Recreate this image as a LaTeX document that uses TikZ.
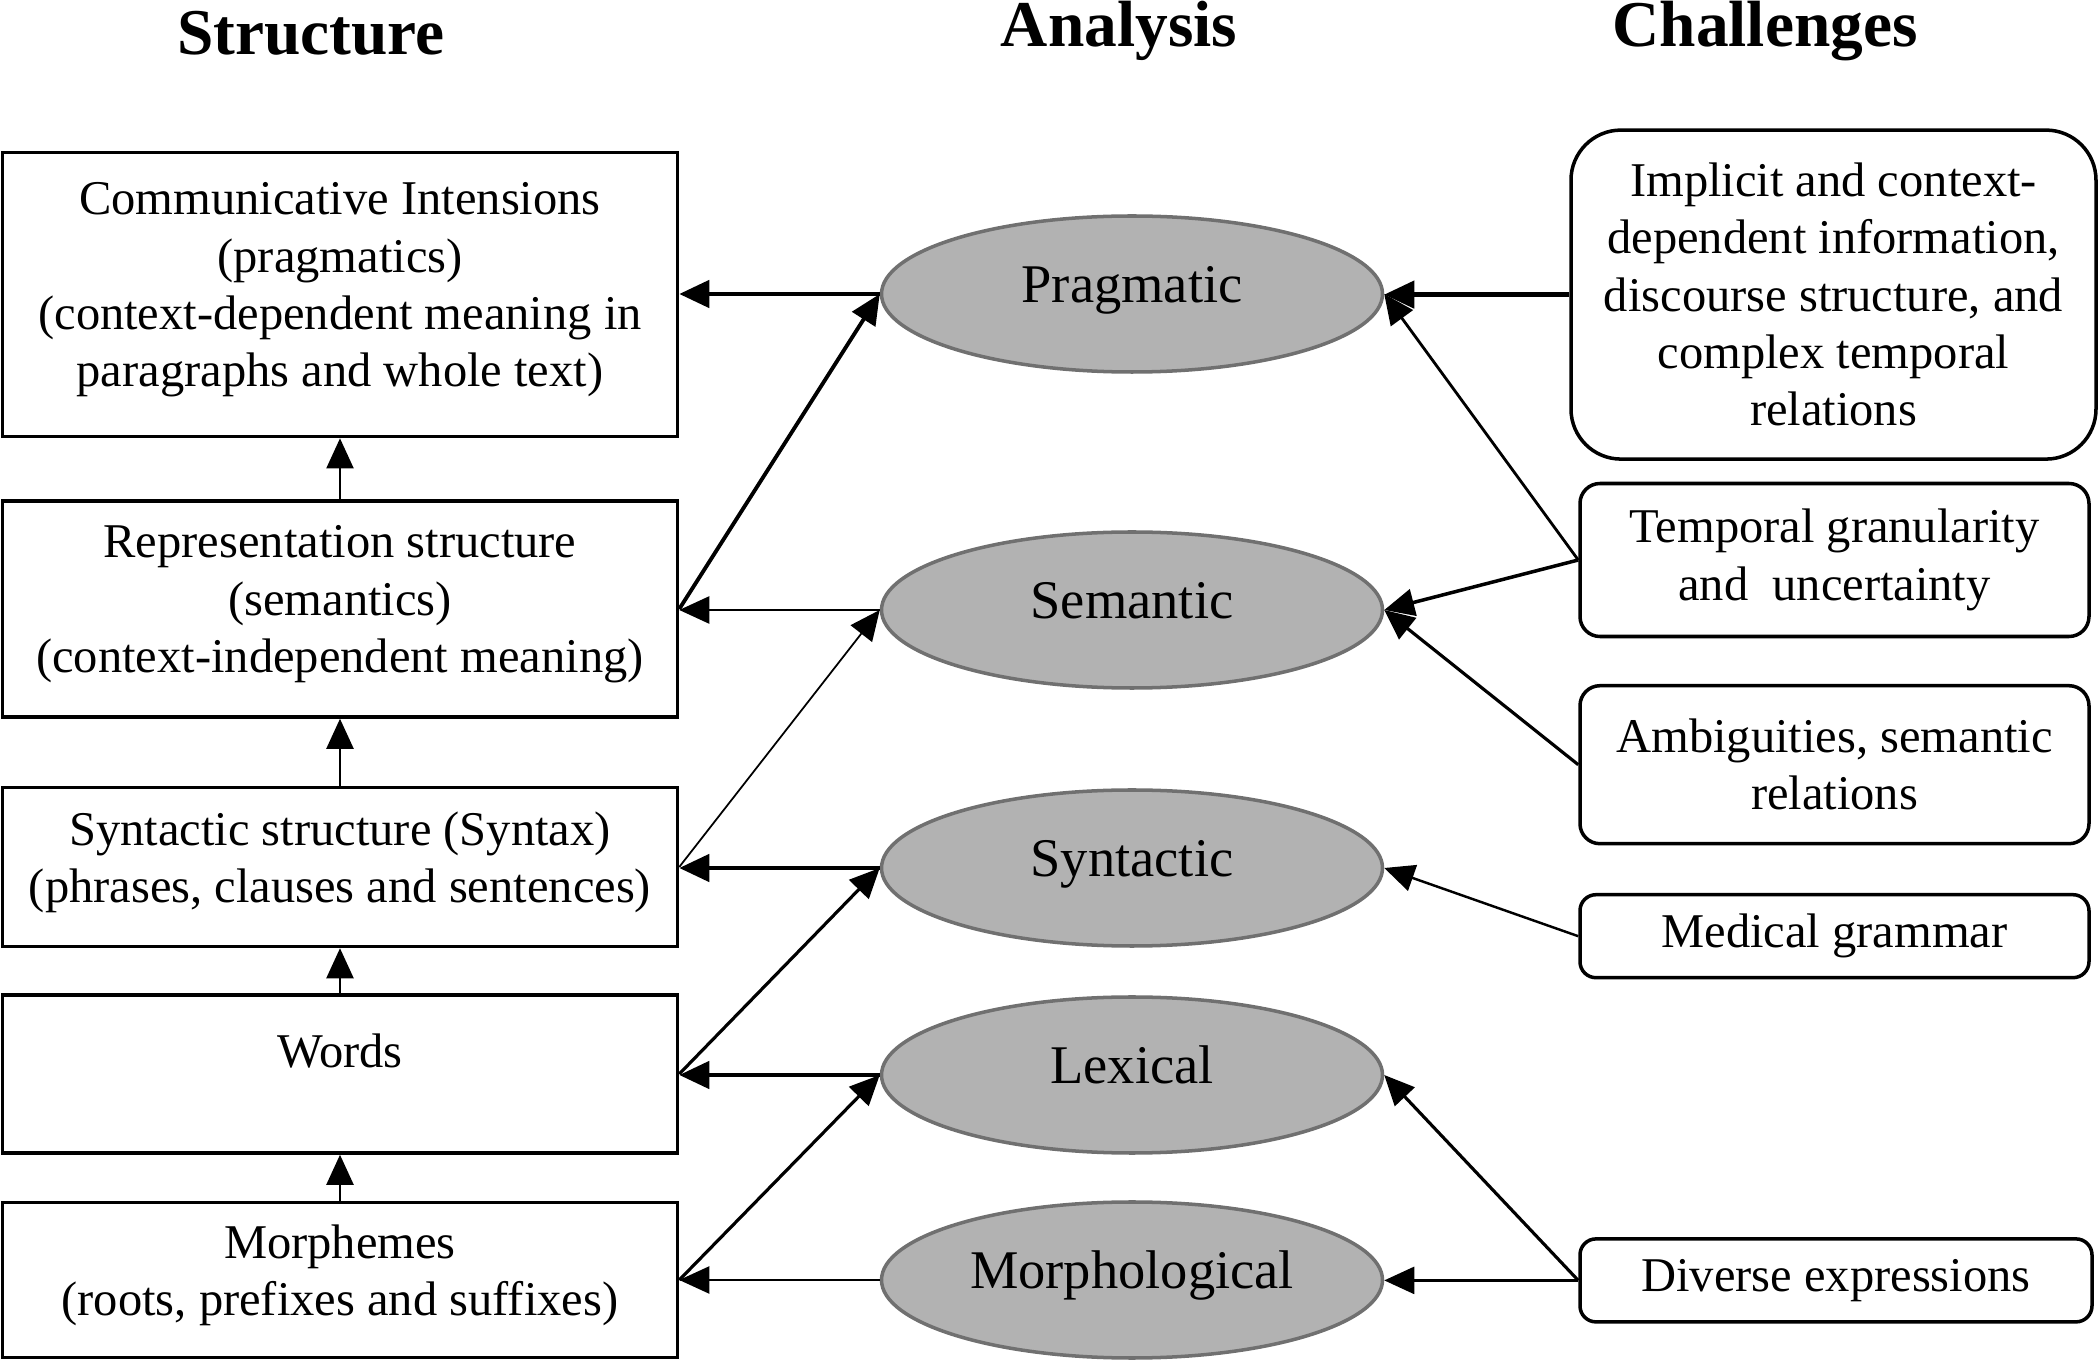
\documentclass[tikz,border=0pt]{standalone}
\usepackage{fontspec}
\setmainfont{Liberation Serif}
\usetikzlibrary{arrows.meta,shapes.geometric}
\definecolor{ellfill}{RGB}{178,178,178}
\definecolor{elldraw}{RGB}{112,112,112}
\tikzset{
  title/.style={anchor=base, font=\fontsize{18.6}{22}\selectfont\bfseries},
  level/.style={draw, line width=1pt, minimum width=6.75cm, inner sep=2pt, align=center,
    font=\fontsize{13.8}{16.3}\selectfont, text depth=0.2cm},
  analysis/.style={ellipse, draw=elldraw, line width=1pt, fill=ellfill, minimum width=5.01cm,
    minimum height=1.56cm, inner sep=0pt, font=\fontsize{15.5}{18}\selectfont,
    text height=11pt, text depth=6.4pt},
  challenge/.style={draw, line width=1pt, rounded corners=0.2cm, minimum width=5.09cm, inner sep=2pt,
    align=center, font=\fontsize{13.8}{16.3}\selectfont},
  arr/.style={-{Triangle[length=0.3cm,width=0.27cm]}, line width=#1},
  arr/.default=0.8pt
}
\begin{document}
\begin{tikzpicture}
\useasboundingbox (0,0) rectangle (21,-13.6);
\node[title] (tstruct) at (3.11,-0.55) {Structure};
\node[title] (tanal) at (11.19,-0.47) {Analysis};
\node[title] (tchal) at (17.65,-0.47) {Challenges};

\node[level, minimum height=2.84cm] (ci) at (3.40,-2.946) {Communicative Intensions\\(pragmatics)\\(context-dependent meaning in\\paragraphs and whole text)};
\node[level, minimum height=2.16cm] (rep) at (3.40,-6.09) {Representation structure\\(semantics)\\(context-independent meaning)};
\node[level, minimum height=1.59cm] (syn) at (3.40,-8.67) {Syntactic structure (Syntax)\\(phrases, clauses and sentences)};
\node[level, minimum height=1.58cm, text depth=0.46cm] (wrd) at (3.40,-10.74) {Words};
\node[level, minimum height=1.55cm] (mor) at (3.40,-12.80) {Morphemes\\(roots, prefixes and suffixes)};

\node[analysis] (prag) at (11.32,-2.94) {Pragmatic};
\node[analysis] (sem) at (11.32,-6.10) {Semantic};
\node[analysis] (synt) at (11.32,-8.68) {Syntactic};
\node[analysis] (lex) at (11.32,-10.75) {Lexical};
\node[analysis] (morph) at (11.32,-12.80) {Morphological};

\node[challenge, rounded corners=0.5cm, minimum width=5.25cm, minimum height=3.29cm] (c1) at (18.335,-2.946) {Implicit and context-\\dependent information,\\discourse structure, and\\complex temporal\\relations};
\node[challenge, minimum height=1.53cm] (c2) at (18.345,-5.60) {Temporal granularity\\and\ \ uncertainty};
\node[challenge, minimum height=1.58cm] (c3) at (18.345,-7.647) {Ambiguities, semantic\\relations};
\node[challenge, rounded corners=0.16cm, minimum height=0.83cm] (c4) at (18.345,-9.362) {Medical grammar};
\node[challenge, rounded corners=0.16cm, minimum width=5.12cm, minimum height=0.83cm] (c5) at (18.36,-12.804) {Diverse expressions};

\foreach \a/\b in {rep/ci,syn/rep,wrd/syn,mor/wrd}
  \draw[arr=0.6pt] (\a) -- (\b);

\draw[arr=1.3pt] (prag.west) -- (prag.west -| ci.east);
\draw[arr=1.1pt] (rep.east) -- (prag.west);
\draw[arr=0.7pt] (sem.west) -- (sem.west -| rep.east);
\draw[arr=0.5pt] (syn.east) -- (sem.west);
\draw[arr=1.3pt] (synt.west) -- (synt.west -| syn.east);
\draw[arr=0.9pt] (wrd.east) -- (synt.west);
\draw[arr=1.3pt] (lex.west) -- (lex.west -| wrd.east);
\draw[arr=0.9pt] (mor.east) -- (lex.west);
\draw[arr=0.6pt] (morph.west) -- (morph.west -| mor.east);

\draw[arr=1.3pt] (c1.west) -- (c1.west -| prag.east);
\draw[arr=0.8pt] (c2.west) -- (prag.east);
\draw[arr=1pt] (c2.west) -- (sem.east);
\draw[arr=0.9pt] (c3.west) -- (sem.east);
\draw[arr=0.7pt] (c4.west) -- (synt.east);
\draw[arr=0.9pt] (c5.west) -- (lex.east);
\draw[arr=0.7pt] (c5.west) -- (c5.west -| morph.east);
\end{tikzpicture}
\end{document}
